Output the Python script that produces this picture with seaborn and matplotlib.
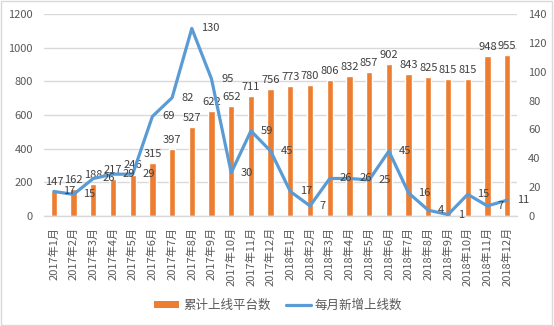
import numpy as np
import pandas as pd
import matplotlib
matplotlib.use("Agg")
import matplotlib.pyplot as plt
from matplotlib.patches import Rectangle
from matplotlib.lines import Line2D
from matplotlib.patches import Patch
import seaborn as sns

sns.set_theme(style="white")
plt.rcParams['font.family'] = ['Noto Sans CJK SC', 'DejaVu Sans']

months = [f"2017年{m}月" for m in range(1, 13)] + [f"2018年{m}月" for m in range(1, 13)]
cumulative = [147, 162, 188, 217, 246, 315, 397, 527, 622, 652, 711, 756,
              773, 780, 806, 832, 857, 902, 843, 825, 815, 815, 948, 955]
monthly_new = [17, 15, 26, 29, 29, 69, 82, 130, 95, 30, 59, 45,
               17, 7, 26, 26, 25, 45, 16, 4, 1, 15, 7, 11]
left_ticks = [0, 200, 400, 600, 800, 1000, 1200]
right_ticks = [0, 20, 40, 60, 80, 100, 120, 140]

bar_name = "累计上线平台数"
line_name = "每月新增上线数"
orange = "#ED7D31"
blue = "#5B9BD5"
text_gray = "#595959"
label_gray = "#404040"
grid_gray = "#D9D9D9"

df = pd.DataFrame({"month": months, "cum": cumulative, "new": monthly_new})
df["pos"] = np.arange(len(df))

fig = plt.figure(figsize=(5.54, 3.26), dpi=100)
ax = fig.add_axes([0.0794, 0.3374, 0.8538, 0.6196])

sns.barplot(data=df, x="month", y="cum", color=orange, saturation=1,
            width=0.32, ax=ax, zorder=2)
ax.set_ylim(0, 1200)
ax.set_xlim(-0.5, len(months) - 0.5)
ax.set_yticks(left_ticks)
ax.yaxis.grid(True, color=grid_gray, linewidth=1)
ax.set_axisbelow(True)
ax.set_xlabel("")
ax.set_ylabel("")
for s in ["top", "right", "left"]:
    ax.spines[s].set_visible(False)
ax.spines["bottom"].set_color(grid_gray)
ax.spines["bottom"].set_linewidth(1)
ax.tick_params(axis="y", length=0, pad=8, labelsize=8, labelcolor=text_gray)
ax.tick_params(axis="x", which="major", length=0, pad=8, labelsize=8,
               labelcolor=text_gray, labelrotation=90)
ax.set_xticks(np.arange(-0.5, len(months), 1.0), minor=True)
ax.tick_params(axis="x", which="minor", length=4, width=1, color=grid_gray)

for x, v in zip(df["pos"], df["cum"]):
    ax.annotate(str(v), (x, v), xytext=(0, 3), textcoords="offset points",
                ha="center", va="bottom", fontsize=8, color=label_gray)

ax2 = ax.twinx()
sns.lineplot(data=df, x="pos", y="new", color=blue, linewidth=2.3,
             ax=ax2, zorder=3)
ax2.set_ylim(0, 140)
ax2.set_yticks(right_ticks)
ax2.set_xlim(-0.5, len(months) - 0.5)
ax2.set_xlabel("")
ax2.set_ylabel("")
for s in ["top", "right", "left", "bottom"]:
    ax2.spines[s].set_visible(False)
ax2.tick_params(axis="y", length=0, pad=8, labelsize=8, labelcolor=text_gray)

for x, v in zip(df["pos"], df["new"]):
    ax2.annotate(str(v), (x, v), xytext=(7, 0), textcoords="offset points",
                 ha="left", va="center", fontsize=8, color=label_gray)

handles = [Patch(facecolor=orange, edgecolor="none"),
           Line2D([0], [0], color=blue, linewidth=2.3)]
fig.legend(handles, [bar_name, line_name], loc="center",
           bbox_to_anchor=(0.502, 0.064), ncol=2, frameon=False,
           fontsize=9, labelcolor=text_gray, handlelength=2.0,
           handleheight=0.5, handletextpad=0.3, columnspacing=1.2)

fig.patches.append(Rectangle((0.001, 0.002), 0.996, 0.995,
                             transform=fig.transFigure, fill=False,
                             edgecolor=grid_gray, linewidth=1))

fig.savefig("out.png", dpi=100)
